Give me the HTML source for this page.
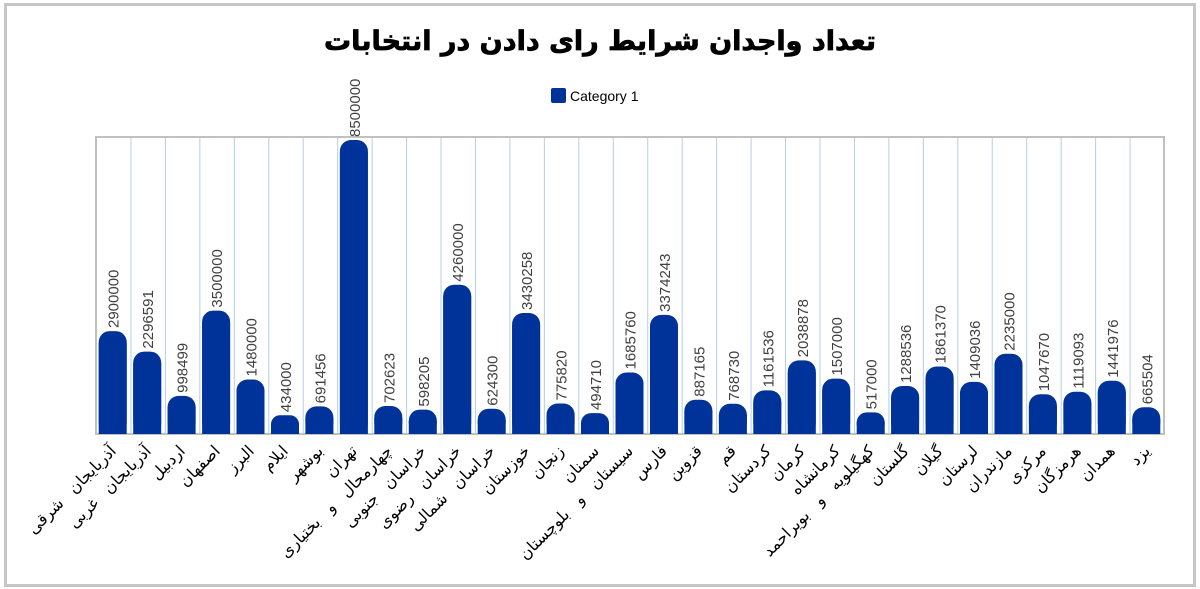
<!DOCTYPE html><html><head><meta charset="utf-8"><style>body{margin:0;background:#fff}svg{display:block}</style></head><body>
<svg width="1200" height="589" xmlns="http://www.w3.org/2000/svg" font-family="Liberation Sans, DejaVu Sans, sans-serif">
<defs><pattern id="gp" patternUnits="userSpaceOnUse" x="96" y="0" width="34.4516" height="589"><rect x="-1" y="0" width="2" height="589" fill="#b4cdea"/></pattern></defs>
<rect width="1200" height="589" fill="#fff"/>
<rect x="5.5" y="4.5" width="1189" height="581" fill="#fff" stroke="#c6c6c6" stroke-width="3"/>
<text x="600" y="50" text-anchor="middle" font-family="DejaVu Sans, sans-serif" font-weight="bold" font-size="27" fill="#000" stroke="#000" stroke-width="0.8">تعداد واجدان شرایط رای دادن در انتخابات</text>
<rect x="551" y="88" width="15" height="15" rx="2" fill="#003399"/>
<text x="570" y="101" font-size="14" fill="#000">Category 1</text>
<rect x="96" y="137" width="1068" height="297" fill="#fff"/>
<rect x="97" y="138" width="1066" height="295" fill="url(#gp)"/>
<rect x="96" y="137" width="1068" height="297" fill="none" stroke="#c0c0c0" stroke-width="2"/>
<g fill="#003399" transform="translate(-0.5,0)">
<rect x="99.2" y="331.1" width="28" height="102.9" rx="11"/><rect x="99.2" y="343" width="28" height="91"/>
<rect x="133.7" y="351.6" width="28" height="82.4" rx="11"/><rect x="133.7" y="363" width="28" height="71"/>
<rect x="168.1" y="395.9" width="28" height="38.1" rx="11"/><rect x="168.1" y="407" width="28" height="27"/>
<rect x="202.6" y="310.6" width="28" height="123.4" rx="11"/><rect x="202.6" y="322" width="28" height="112"/>
<rect x="237" y="379.5" width="28" height="54.5" rx="11"/><rect x="237" y="391" width="28" height="43"/>
<rect x="271.5" y="415.2" width="28" height="18.8" rx="9"/><rect x="271.5" y="424" width="28" height="10"/>
<rect x="305.9" y="406.4" width="28" height="27.6" rx="11"/><rect x="305.9" y="418" width="28" height="16"/>
<rect x="340.4" y="140" width="28" height="294" rx="11"/><rect x="340.4" y="152" width="28" height="282"/>
<rect x="374.8" y="406" width="28" height="28" rx="11"/><rect x="374.8" y="418" width="28" height="16"/>
<rect x="409.3" y="409.6" width="28" height="24.4" rx="11"/><rect x="409.3" y="421" width="28" height="13"/>
<rect x="443.7" y="284.7" width="28" height="149.3" rx="11"/><rect x="443.7" y="296" width="28" height="138"/>
<rect x="478.2" y="408.7" width="28" height="25.3" rx="11"/><rect x="478.2" y="420" width="28" height="14"/>
<rect x="512.6" y="313" width="28" height="121" rx="11"/><rect x="512.6" y="325" width="28" height="109"/>
<rect x="547.1" y="403.5" width="28" height="30.5" rx="11"/><rect x="547.1" y="415" width="28" height="19"/>
<rect x="581.5" y="413.1" width="28" height="20.9" rx="10"/><rect x="581.5" y="423" width="28" height="11"/>
<rect x="616" y="372.5" width="28" height="61.5" rx="11"/><rect x="616" y="384" width="28" height="50"/>
<rect x="650.5" y="314.9" width="28" height="119.1" rx="11"/><rect x="650.5" y="326" width="28" height="108"/>
<rect x="684.9" y="399.7" width="28" height="34.3" rx="11"/><rect x="684.9" y="411" width="28" height="23"/>
<rect x="719.4" y="403.8" width="28" height="30.2" rx="11"/><rect x="719.4" y="415" width="28" height="19"/>
<rect x="753.8" y="390.4" width="28" height="43.6" rx="11"/><rect x="753.8" y="402" width="28" height="32"/>
<rect x="788.3" y="360.4" width="28" height="73.6" rx="11"/><rect x="788.3" y="372" width="28" height="62"/>
<rect x="822.7" y="378.6" width="28" height="55.4" rx="11"/><rect x="822.7" y="390" width="28" height="44"/>
<rect x="857.2" y="412.4" width="28" height="21.6" rx="10"/><rect x="857.2" y="422" width="28" height="12"/>
<rect x="891.6" y="386" width="28" height="48" rx="11"/><rect x="891.6" y="397" width="28" height="37"/>
<rect x="926.1" y="366.5" width="28" height="67.5" rx="11"/><rect x="926.1" y="378" width="28" height="56"/>
<rect x="960.5" y="381.9" width="28" height="52.1" rx="11"/><rect x="960.5" y="393" width="28" height="41"/>
<rect x="995" y="353.7" width="28" height="80.3" rx="11"/><rect x="995" y="365" width="28" height="69"/>
<rect x="1029.4" y="394.3" width="28" height="39.7" rx="11"/><rect x="1029.4" y="406" width="28" height="28"/>
<rect x="1063.9" y="391.8" width="28" height="42.2" rx="11"/><rect x="1063.9" y="403" width="28" height="31"/>
<rect x="1098.3" y="380.8" width="28" height="53.2" rx="11"/><rect x="1098.3" y="392" width="28" height="42"/>
<rect x="1132.8" y="407.3" width="28" height="26.7" rx="11"/><rect x="1132.8" y="419" width="28" height="15"/>
</g>
<g font-size="15" fill="#404040">
<text transform="translate(118.7,328) rotate(-90)">2900000</text>
<text transform="translate(153.2,348.6) rotate(-90)">2296591</text>
<text transform="translate(187.6,392.9) rotate(-90)">998499</text>
<text transform="translate(222.1,307.6) rotate(-90)">3500000</text>
<text transform="translate(256.5,376.5) rotate(-90)">1480000</text>
<text transform="translate(291,412.2) rotate(-90)">434000</text>
<text transform="translate(325.4,403.4) rotate(-90)">691456</text>
<text transform="translate(359.9,137) rotate(-90)">8500000</text>
<text transform="translate(394.3,403) rotate(-90)">702623</text>
<text transform="translate(428.8,406.6) rotate(-90)">598205</text>
<text transform="translate(463.2,281.7) rotate(-90)">4260000</text>
<text transform="translate(497.7,405.7) rotate(-90)">624300</text>
<text transform="translate(532.1,310) rotate(-90)">3430258</text>
<text transform="translate(566.6,400.5) rotate(-90)">775820</text>
<text transform="translate(601,410.1) rotate(-90)">494710</text>
<text transform="translate(635.5,369.5) rotate(-90)">1685760</text>
<text transform="translate(670,311.9) rotate(-90)">3374243</text>
<text transform="translate(704.4,396.7) rotate(-90)">887165</text>
<text transform="translate(738.9,400.8) rotate(-90)">768730</text>
<text transform="translate(773.3,387.4) rotate(-90)">1161536</text>
<text transform="translate(807.8,357.4) rotate(-90)">2038878</text>
<text transform="translate(842.2,375.6) rotate(-90)">1507000</text>
<text transform="translate(876.7,409.4) rotate(-90)">517000</text>
<text transform="translate(911.1,383) rotate(-90)">1288536</text>
<text transform="translate(945.6,363.5) rotate(-90)">1861370</text>
<text transform="translate(980,378.9) rotate(-90)">1409036</text>
<text transform="translate(1014.5,350.7) rotate(-90)">2235000</text>
<text transform="translate(1048.9,391.3) rotate(-90)">1047670</text>
<text transform="translate(1083.4,388.8) rotate(-90)">1119093</text>
<text transform="translate(1117.8,377.8) rotate(-90)">1441976</text>
<text transform="translate(1152.3,404.3) rotate(-90)">665504</text>
</g>
<g font-family="DejaVu Sans, sans-serif" font-size="16" word-spacing="9" fill="#000" text-anchor="end">
<text transform="translate(117,452) rotate(-45)">آذربایجان شرقی</text>
<text transform="translate(152,452) rotate(-45)">آذربایجان غربی</text>
<text transform="translate(186,452) rotate(-45)">اردبیل</text>
<text transform="translate(221,452) rotate(-45)">اصفهان</text>
<text transform="translate(255,452) rotate(-45)">البرز</text>
<text transform="translate(289,452) rotate(-45)">ایلام</text>
<text transform="translate(324,452) rotate(-45)">بوشهر</text>
<text transform="translate(358,452) rotate(-45)">تهران</text>
<text transform="translate(393,452) rotate(-45)">چهارمحال و بختیاری</text>
<text transform="translate(427,452) rotate(-45)">خراسان جنوبی</text>
<text transform="translate(462,452) rotate(-45)">خراسان رضوی</text>
<text transform="translate(496,452) rotate(-45)">خراسان شمالی</text>
<text transform="translate(531,452) rotate(-45)">خوزستان</text>
<text transform="translate(565,452) rotate(-45)">زنجان</text>
<text transform="translate(600,452) rotate(-45)">سمنان</text>
<text transform="translate(634,452) rotate(-45)">سیستان و بلوچستان</text>
<text transform="translate(668,452) rotate(-45)">فارس</text>
<text transform="translate(703,452) rotate(-45)">قزوین</text>
<text transform="translate(737,452) rotate(-45)">قم</text>
<text transform="translate(772,452) rotate(-45)">کردستان</text>
<text transform="translate(806,452) rotate(-45)">کرمان</text>
<text transform="translate(841,452) rotate(-45)">کرمانشاه</text>
<text transform="translate(875,452) rotate(-45)">کهگیلویه و بویراحمد</text>
<text transform="translate(910,452) rotate(-45)">گلستان</text>
<text transform="translate(944,452) rotate(-45)">گیلان</text>
<text transform="translate(979,452) rotate(-45)">لرستان</text>
<text transform="translate(1013,452) rotate(-45)">مازندران</text>
<text transform="translate(1047,452) rotate(-45)">مرکزی</text>
<text transform="translate(1082,452) rotate(-45)">هرمزگان</text>
<text transform="translate(1116,452) rotate(-45)">همدان</text>
<text transform="translate(1151,452) rotate(-45)">یزد</text>
</g>
</svg></body></html>
